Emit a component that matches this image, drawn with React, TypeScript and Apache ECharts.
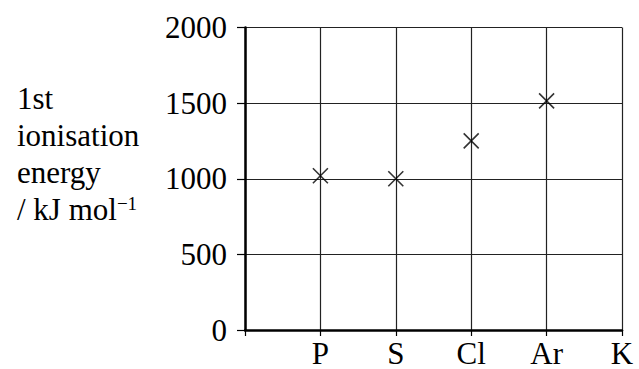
import React, { useEffect, useRef } from "react";
import * as echarts from "echarts";

const categories = ["", "P", "S", "Cl", "Ar", "K"];
const ionisationEnergy = [null, 1020, 1000, 1250, 1515, null];
const yTicks = { min: 0, max: 2000, interval: 500 };
const titleLines = ["1st", "ionisation", "energy", "/ kJ mol"];
const titleSup = "\u22121";

const FONT = "Liberation Serif";

export default function App() {
  const ref = useRef<HTMLDivElement>(null);
  useEffect(() => {
    if (!ref.current) return;
    const chart = echarts.init(ref.current, undefined, { renderer: "svg" });
    chart.setOption({
      animation: false,
      backgroundColor: "#fff",
      title: {
        text: titleLines.join("\n") + "{sup|" + titleSup + "}",
        left: 12,
        top: 75,
        textStyle: {
          color: "#000",
          fontFamily: FONT,
          fontSize: 31,
          fontWeight: "normal",
          lineHeight: 37,
          rich: {
            sup: {
              color: "#000",
              fontFamily: FONT,
              fontSize: 19,
              lineHeight: 37,
              verticalAlign: "top",
              padding: [3, 0, 0, 0],
            },
          },
        },
      },
      grid: { left: 245, right: 17, top: 27.5, bottom: 39, containLabel: false },
      xAxis: {
        type: "category",
        data: categories,
        boundaryGap: false,
        axisLine: { show: true, lineStyle: { color: "#000", width: 2.5 } },
        axisTick: { show: true, length: 6, lineStyle: { color: "#000", width: 1.2 } },
        axisLabel: {
          color: "#000",
          fontFamily: FONT,
          fontSize: 31,
          lineHeight: 26,
          margin: 10.5,
          interval: 0,
        },
        splitLine: { show: true, lineStyle: { color: "#222", width: 1.2 } },
      },
      yAxis: {
        type: "value",
        min: yTicks.min,
        max: yTicks.max,
        interval: yTicks.interval,
        axisLine: { show: true, lineStyle: { color: "#000", width: 2.5 } },
        axisTick: { show: true, length: 8, lineStyle: { color: "#000", width: 1.2 } },
        axisLabel: {
          color: "#000",
          fontFamily: FONT,
          fontSize: 31,
          margin: 18,
          formatter: (v: number) => String(v),
        },
        splitLine: { show: true, lineStyle: { color: "#222", width: 1.2 } },
      },
      series: [
        {
          type: "scatter",
          data: ionisationEnergy,
          symbol: "path://M0,0L10,10M10,0L0,10",
          symbolSize: 15,
          itemStyle: { color: "rgba(0,0,0,0)", borderColor: "#000", borderWidth: 1.6 },
        },
      ],
    });
    return () => chart.dispose();
  }, []);
  return (
    <div
      ref={ref}
      style={{ position: "fixed", left: 0, top: 0, width: 639, height: 369 }}
    />
  );
}
